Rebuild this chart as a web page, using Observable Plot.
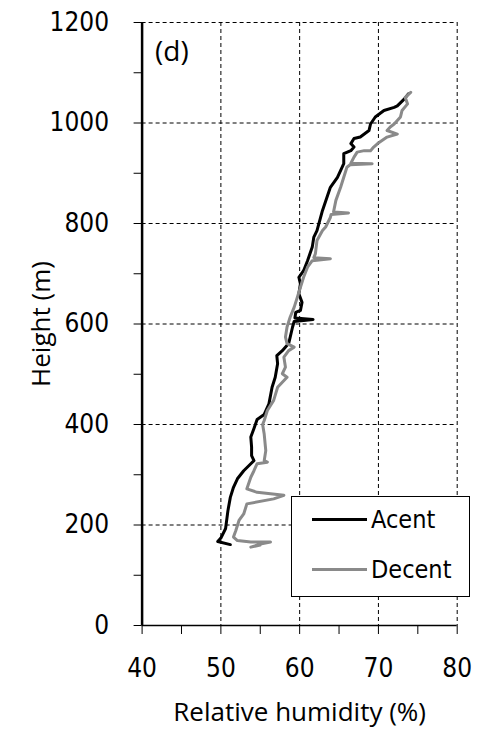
<!DOCTYPE html>
<html>
<head>
<meta charset="utf-8">
<script src="https://cdn.jsdelivr.net/npm/d3@7"></script>
<script src="https://cdn.jsdelivr.net/npm/@observablehq/plot@0.6"></script>
<style>
  html, body { margin: 0; padding: 0; background: #fff; }
  #wrap { position: relative; width: 483px; height: 731px; }
  #legend { position: absolute; left: 291px; top: 496px; width: 179px; height: 101px;
    border: 1px solid #000; background: #fff; box-sizing: border-box;
    font-family: "DejaVu Sans", sans-serif; font-stretch: condensed; font-weight: 400; font-size: 25px; }
  .item { position: absolute; left: 20px; display: flex; align-items: center; }
  .sw { width: 55px; height: 3px; margin-right: 4px; }
  g[aria-label="x-axis tick label"], g[aria-label="y-axis tick label"] { font-stretch: condensed; font-weight: 400; }
</style>
</head>
<body>
<div id="wrap"><div id="legend"></div></div>
<script>
// ---- data ----
const seriesNames = ["Acent", "Decent"];
const seriesColors = ["#000000", "#8a8a8a"];

const acentRH = [51.2,49.6,50.0,50.6,50.9,51.2,51.6,52.1,52.9,53.8,54.2,53.9,53.9,53.8,54.2,54.6,55.5,56.1,56.5,56.9,57.2,57.1,57.8,58.6,58.8,59.1,59.3,61.7,59.4,59.5,60.1,60.3,59.9,60.1,59.9,60.5,61.0,61.6,61.8,62.2,62.9,63.9,64.8,65.6,65.6,66.5,66.9,66.5,66.9,67.7,68.8,69.0,69.6,70.7,72.0,72.4,73.3,73.8];
const acentH  = [161,167,174,193,229,255,275,292,308,322,328,338,355,375,392,410,420,441,474,494,521,537,547,561,574,594,605,609,612,623,627,643,660,680,693,706,726,753,773,786,826,872,892,919,939,945,952,959,969,972,985,998,1012,1025,1031,1034,1048,1058];

const decentRH = [74.1,73.4,73.7,73.0,72.8,72.0,71.5,71.1,72.4,71.1,69.9,69.4,69.0,68.2,67.3,66.9,66.5,69.2,66.4,66.0,65.6,65.2,64.6,64.3,66.2,64.0,63.9,63.3,62.9,62.2,62.0,61.8,63.9,61.6,61.0,60.5,60.1,59.7,59.3,58.8,58.4,58.2,58.4,59.3,58.6,58.0,58.2,57.8,58.4,57.2,56.7,55.9,55.5,55.3,55.5,55.7,55.5,55.9,54.6,54.2,53.8,53.3,54.6,56.3,58.0,56.7,53.3,52.9,52.3,51.9,51.6,52.1,53.8,55.5,56.3,55.0,53.8,55.0];
const decentH  = [1061,1051,1038,1025,1012,998,992,985,978,972,959,952,945,945,942,932,920,919,917,912,892,872,846,823,821,818,812,793,786,766,740,732,730,726,713,693,673,653,633,614,594,574,561,554,547,534,514,501,494,474,448,428,408,400,381,348,328,325,322,308,295,272,265,262,259,252,242,222,209,189,176,169,166,166,166,162,156,160];

const xMajor = [40, 50, 60, 70, 80];
const xMinor = [45, 55, 65, 75];
const yMajor = [0, 200, 400, 600, 800, 1000, 1200];
const yMinor = [100, 300, 500, 700, 900, 1100];
const xGrid = [50, 60, 70, 80];
const yGrid = [200, 400, 600, 800, 1000, 1200];
const panelLabel = ["(d)"];
const xTitle = ["Relative humidity (%)"];
const yTitle = ["Height (m)"];

const acent = acentRH.map((v, i) => ({rh: v, h: acentH[i]}));
const decent = decentRH.map((v, i) => ({rh: v, h: decentH[i]}));

const titleFont = "'Open Sans', sans-serif";

const chart = Plot.plot({
  width: 483,
  height: 731,
  marginLeft: 141.6,
  marginRight: 26.3,
  marginTop: 22,
  marginBottom: 106,
  style: {fontFamily: "'DejaVu Sans', sans-serif", fontSize: "26px", fontWeight: 400, background: "#fff", color: "#000"},
  x: {domain: [40, 80]},
  y: {domain: [0, 1200]},
  marks: [
    Plot.ruleX(xGrid, {stroke: "#000", strokeWidth: 1, strokeDasharray: "4,3"}),
    Plot.ruleY(yGrid, {stroke: "#000", strokeWidth: 1, strokeDasharray: "4,3"}),
    Plot.axisX({ticks: xMajor, tickSize: 9, tickPadding: 24, tickFormat: d => String(d), label: null}),
    Plot.axisX({ticks: xMinor, tickSize: 9, tickFormat: () => "", label: null}),
    Plot.axisY({ticks: yMajor, tickSize: 8, tickPadding: 25, tickFormat: d => String(d), label: null}),
    Plot.axisY({ticks: yMinor, tickSize: 8, tickFormat: () => "", label: null}),
    Plot.line(acent, {x: "rh", y: "h", stroke: seriesColors[0], strokeWidth: 3, strokeLinejoin: "round"}),
    Plot.line(decent, {x: "rh", y: "h", stroke: seriesColors[1], strokeWidth: 3, strokeLinejoin: "round"}),
    Plot.ruleX([40], {stroke: "#000", strokeWidth: 2.5}),
    Plot.ruleY([0], {stroke: "#000", strokeWidth: 1.5}),
    Plot.text(panelLabel, {text: d => d, frameAnchor: "top-left", dx: 13, dy: 30, textAnchor: "start", lineAnchor: "middle", fontFamily: titleFont, fontSize: 28}),
    Plot.text(xTitle, {text: d => d, frameAnchor: "bottom", dy: 87, textAnchor: "middle", lineAnchor: "middle", fontFamily: titleFont, fontSize: 26, letterSpacing: 0.6}),
    Plot.text(yTitle, {text: d => d, frameAnchor: "left", dx: -100, rotate: -90, textAnchor: "middle", lineAnchor: "middle", fontFamily: titleFont, fontSize: 26, letterSpacing: 0.6})
  ]
});
chart.style.position = "absolute";
chart.style.left = "0";
chart.style.top = "0";
const wrap = document.getElementById("wrap");
wrap.insertBefore(chart, wrap.firstChild);

const legend = document.getElementById("legend");
seriesNames.forEach((name, i) => {
  const it = document.createElement("div");
  it.className = "item";
  it.style.top = (i === 0 ? 8 : 58) + "px";
  const sw = document.createElement("div");
  sw.className = "sw";
  sw.style.background = seriesColors[i];
  const tx = document.createElement("span");
  tx.textContent = name;
  it.appendChild(sw);
  it.appendChild(tx);
  legend.appendChild(it);
});
</script>
</body>
</html>
